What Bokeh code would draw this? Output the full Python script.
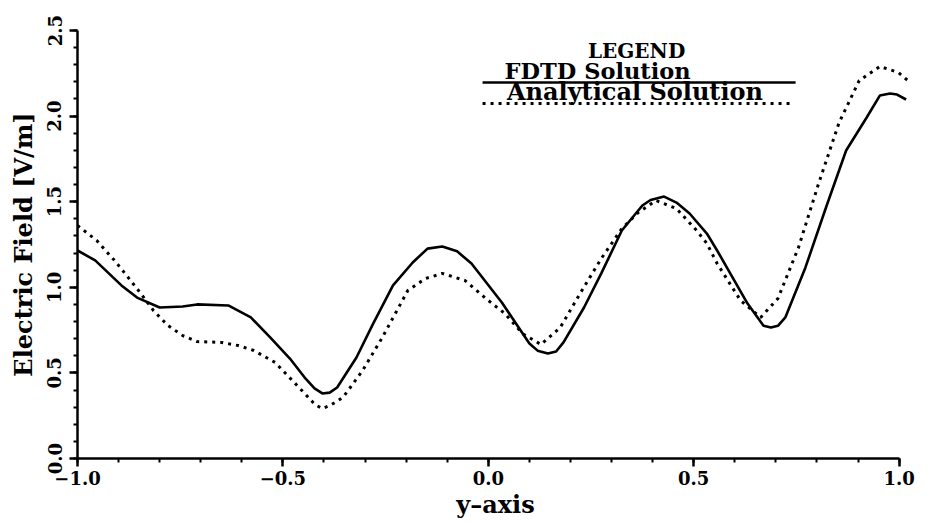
from bokeh.plotting import figure
from bokeh.models import FixedTicker, Label, Arrow
from bokeh.embed import file_html
from bokeh.resources import INLINE

# FDTD solution (solid curve)
fdtd_x = [-1.0, -0.957, -0.893, -0.855, -0.80, -0.744, -0.709, -0.633, -0.578, -0.531,
          -0.483, -0.447, -0.423, -0.404, -0.386, -0.368, -0.321, -0.280, -0.232, -0.184,
          -0.148, -0.112, -0.076, -0.041, 0.033, 0.100, 0.120, 0.145, 0.165, 0.183,
          0.233, 0.275, 0.325, 0.375, 0.395, 0.428, 0.458, 0.490, 0.532, 0.557,
          0.631, 0.670, 0.688, 0.705, 0.723, 0.772, 0.822, 0.871, 0.921, 0.953,
          0.978, 0.995, 1.017]
fdtd_e = [1.215, 1.157, 1.011, 0.940, 0.882, 0.888, 0.900, 0.894, 0.824, 0.707,
          0.584, 0.473, 0.410, 0.380, 0.385, 0.415, 0.590, 0.789, 1.011, 1.145,
          1.226, 1.238, 1.210, 1.139, 0.911, 0.672, 0.630, 0.613, 0.625, 0.678,
          0.882, 1.081, 1.332, 1.478, 1.510, 1.530, 1.495, 1.431, 1.314, 1.215,
          0.905, 0.775, 0.765, 0.775, 0.824, 1.116, 1.466, 1.799, 1.992, 2.120,
          2.132, 2.126, 2.097]

# Analytical solution (dotted curve)
anal_x = [-1.0, -0.953, -0.910, -0.886, -0.846, -0.815, -0.780, -0.744, -0.709, -0.649,
          -0.609, -0.571, -0.536, -0.519, -0.447, -0.422, -0.404, -0.385, -0.354, -0.306,
          -0.258, -0.196, -0.153, -0.112, -0.057, 0.0, 0.040, 0.083, 0.128, 0.175,
          0.225, 0.275, 0.325, 0.365, 0.408, 0.458, 0.507, 0.532, 0.557, 0.614,
          0.663, 0.705, 0.755, 0.804, 0.854, 0.903, 0.953, 0.998, 1.027]
anal_e = [1.361, 1.273, 1.157, 1.086, 0.964, 0.864, 0.777, 0.718, 0.683, 0.678,
          0.660, 0.631, 0.584, 0.561, 0.380, 0.315, 0.292, 0.310, 0.356, 0.514,
          0.707, 0.981, 1.051, 1.081, 1.040, 0.923, 0.847, 0.730, 0.666, 0.765,
          0.970, 1.168, 1.343, 1.437, 1.507, 1.460, 1.332, 1.256, 1.139, 0.923,
          0.824, 0.935, 1.232, 1.606, 1.963, 2.208, 2.290, 2.255, 2.196]

x_ticks = [-1.0, -0.5, 0.0, 0.5, 1.0]
x_tick_labels = ["\u22121.0", "\u22120.5", "0.0", "0.5", "1.0"]
x_minor = [round(-1.0 + 0.1 * i, 1) for i in range(21)]
y_ticks = [0.0, 0.5, 1.0, 1.5, 2.0, 2.5]
y_tick_labels = ["0.0", "0.5", "1.0", "1.5", "2.0", "2.5"]
y_minor = [round(0.1 * i, 1) for i in range(26)]

FONT = "DejaVu Serif"

p = figure(width=946, height=525, x_range=(-1.0, 1.035), y_range=(0.0, 2.5),
           output_backend="svg", toolbar_location=None,
           min_border_left=77, min_border_right=33, min_border_top=30, min_border_bottom=67)
p.outline_line_color = None
p.grid.visible = False
p.background_fill_color = "white"
p.border_fill_color = "white"

p.line(fdtd_x, fdtd_e, line_color="black", line_width=2.6)
p.line(anal_x, anal_e, line_color="black", line_width=3, line_dash="3 5")

for ax in (p.xaxis[0], p.yaxis[0]):
    ax.axis_line_width = 2.5
    ax.axis_line_color = "black"
    ax.major_tick_line_width = 2.5
    ax.minor_tick_line_width = 2
    ax.major_tick_in = 0
    ax.major_tick_out = 8
    ax.minor_tick_in = 0
    ax.minor_tick_out = 4
    ax.major_label_text_font = FONT
    ax.major_label_text_font_style = "bold"
    ax.major_label_text_font_size = "18px"
    ax.major_label_text_color = "black"
    ax.axis_label_text_font = FONT
    ax.axis_label_text_font_style = "bold"
    ax.axis_label_text_color = "black"

xa = p.xaxis[0]
xa.ticker = FixedTicker(ticks=x_ticks, minor_ticks=x_minor)
xa.major_label_overrides = dict(zip(x_ticks, x_tick_labels))
xa.bounds = (-1.0, 1.0)
xa.axis_label = "y\u2013axis"
xa.axis_label_text_font_size = "24px"
xa.major_label_standoff = 4
xa.axis_label_standoff = 2

ya = p.yaxis[0]
ya.ticker = FixedTicker(ticks=y_ticks, minor_ticks=y_minor)
ya.major_label_overrides = dict(zip(y_ticks, y_tick_labels))
ya.major_label_orientation = "parallel"
ya.axis_label = "Electric Field [V/m]"
ya.axis_label_text_font_size = "24px"
ya.major_label_standoff = 8
ya.axis_label_standoff = 7

# legend block: title, entry names, and sample lines under each name
legend_texts = [
    ("LEGEND", 0.361, 2.383, "20px"),
    ("FDTD Solution", 0.266, 2.266, "22.5px"),
    ("Analytical Solution", 0.357, 2.144, "24px"),
]
for txt, lx, ly, size in legend_texts:
    p.add_layout(Label(x=lx, y=ly, text=txt, text_align="center", text_baseline="middle",
                       text_font=FONT, text_font_style="bold", text_font_size=size,
                       text_color="black"))

p.add_layout(Arrow(x_start=-0.014, y_start=2.196, x_end=0.748, y_end=2.196, end=None,
                   line_color="black", line_width=2.6))
p.add_layout(Arrow(x_start=-0.014, y_start=2.074, x_end=0.741, y_end=2.074, end=None,
                   line_color="black", line_width=3, line_dash="3 5"))

open("out.html", "w").write(file_html(p, INLINE))
